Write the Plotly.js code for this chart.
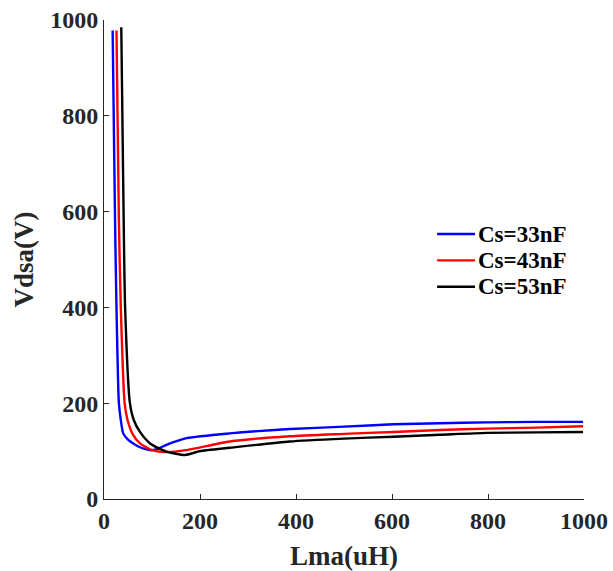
<!DOCTYPE html>
<html>
<head>
<meta charset="utf-8">
<script src="https://cdn.plot.ly/plotly-3.0.1.min.js"></script>
<style>html,body{margin:0;padding:0;background:#fff;}#chart{width:613px;height:571px;}</style>
</head>
<body>
<div id="chart"></div>
<script>
// Series names
const seriesNames = ["Cs=33nF", "Cs=43nF", "Cs=53nF"];

// Cs = 33nF
const lma33 = [18, 20, 23, 26, 31, 35, 40, 50, 61, 75, 95, 110, 130, 172, 262, 387, 500, 603, 700, 797, 900, 998];
const vds33 = [978, 820, 582, 400, 200, 165, 137, 124, 116, 108, 102, 104, 113, 127, 137, 146, 151, 156, 158, 160, 161, 161];

// Cs = 43nF
const lma43 = [26, 31, 35, 43, 49, 60, 75, 100, 130, 172, 262, 387, 500, 603, 700, 797, 900, 998];
const vds43 = [978, 582, 400, 200, 165, 135, 116, 102, 98, 102, 120, 131, 136, 140, 144, 147, 149, 152];

// Cs = 53nF
const lma53 = [36, 41, 44, 54, 62, 75, 96, 130, 169, 200, 262, 387, 500, 603, 700, 797, 900, 998];
const vds53 = [985, 582, 400, 200, 165, 140, 116, 99, 92, 100, 107, 120, 126, 130, 134, 138, 139, 140];

const colors = ["#0000ff", "#ff0000", "#000000"];

const xs = [lma33, lma43, lma53];
const ys = [vds33, vds43, vds53];

const traces = seriesNames.map((n, i) => ({
  x: xs[i], y: ys[i], name: n, type: "scatter", mode: "lines",
  line: {color: colors[i], width: 2.4, shape: "spline", smoothing: 0.6}
}));

const fontFam = "Liberation Serif, Times New Roman, serif";

// Manual legend (lines + labels), placed in paper coordinates
const legendTop = 0.5532, legendStep = 0.0551;
const legendShapes = seriesNames.map((n, i) => ({
  type: "line", xref: "paper", yref: "paper",
  x0: 0.694, x1: 0.773, y0: legendTop - i * legendStep, y1: legendTop - i * legendStep,
  line: {color: colors[i], width: 2.4}
}));
const legendAnn = seriesNames.map((n, i) => ({
  text: n, xref: "paper", yref: "paper", x: 0.776, y: legendTop - i * legendStep,
  xanchor: "left", yanchor: "middle", showarrow: false,
  font: {family: fontFam, size: 23, color: "#000", weight: "bold"}
}));

const axisCommon = {
  showgrid: false, zeroline: false, showline: true, linecolor: "#262626", linewidth: 1,
  ticks: "inside", ticklen: 5, tickcolor: "#262626", tickwidth: 1,
  mirror: false,
  tickfont: {family: fontFam, size: 24, color: "#262626", weight: "bold"}
};

const layout = {
  width: 613, height: 571,
  margin: {l: 104, r: 29, t: 20, b: 72, pad: 0},
  paper_bgcolor: "#fff", plot_bgcolor: "#fff",
  showlegend: false,
  shapes: legendShapes,
  annotations: legendAnn,
  xaxis: Object.assign({}, axisCommon, {range: [0, 1000], dtick: 200, tick0: 0,
    title: {text: "Lma(uH)", font: {family: fontFam, size: 27, color: "#262626", weight: "bold"}, standoff: 13}}),
  yaxis: Object.assign({}, axisCommon, {range: [0, 1000], dtick: 200, tick0: 0,
    title: {text: "Vdsa(V)", font: {family: fontFam, size: 27, color: "#262626", weight: "bold"}, standoff: 8}})
};

Plotly.newPlot("chart", traces, layout, {displayModeBar: false, staticPlot: true});
</script>
</body>
</html>
